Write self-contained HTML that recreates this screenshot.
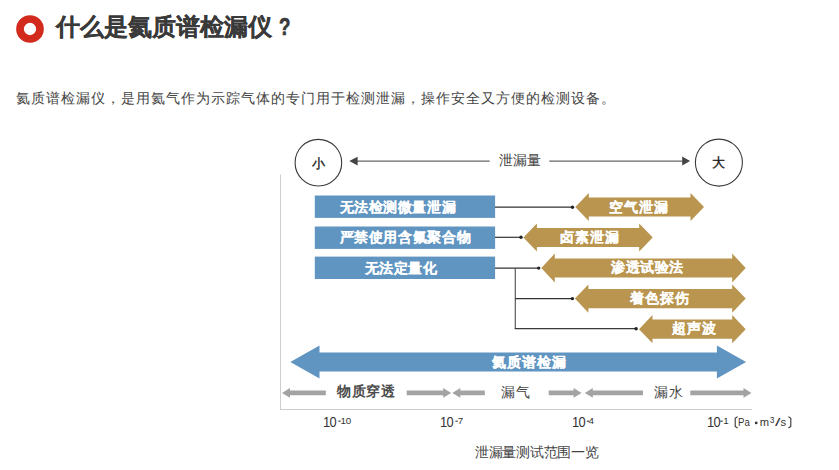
<!DOCTYPE html>
<html><head><meta charset="utf-8"><style>
html,body{margin:0;padding:0;background:#fff;width:839px;height:470px;overflow:hidden;position:relative}
.w{-webkit-text-stroke:0.12px #fff}
.t{position:absolute;white-space:nowrap;line-height:1;font-family:"Liberation Sans",sans-serif}
sup{font-size:0.65em;vertical-align:0.45em;line-height:0}
</style></head><body>
<svg width="839" height="470" viewBox="0 0 839 470" style="position:absolute;left:0;top:0"><circle cx="30" cy="29" r="10" fill="none" stroke="#d22b1d" stroke-width="7.7"/><line x1="280.5" y1="174.5" x2="280.5" y2="409.5" stroke="#cdcdcd" stroke-width="1"/><line x1="280" y1="409.5" x2="752" y2="409.5" stroke="#cdcdcd" stroke-width="1"/><circle cx="318.4" cy="162.7" r="23.3" fill="none" stroke="#3a3a3a" stroke-width="1.1"/><circle cx="718.9" cy="162.6" r="23.5" fill="none" stroke="#3a3a3a" stroke-width="1.1"/><line x1="356" y1="161.1" x2="489.7" y2="161.1" stroke="#666" stroke-width="1.1"/><polygon points="349.3,161.1 357.6,156.8 357.6,165.5" fill="#444"/><line x1="549.3" y1="161.1" x2="683" y2="161.1" stroke="#666" stroke-width="1.1"/><polygon points="690.1,161.1 682.2,156.5 682.2,165.5" fill="#444"/><rect x="314.8" y="195.5" width="180.3" height="22.4" fill="#6195c1"/><rect x="314.8" y="226.5" width="180.3" height="22.4" fill="#6195c1"/><rect x="314.8" y="256.6" width="180.3" height="22.4" fill="#6195c1"/><g stroke="#333" stroke-width="1.2" fill="none"><line x1="495" y1="207.2" x2="572.5" y2="207.2"/><line x1="495" y1="237.3" x2="521" y2="237.3"/><line x1="495" y1="268.1" x2="538.7" y2="268.1"/><line x1="515.3" y1="268.1" x2="515.3" y2="328.7" stroke="#5a5a5a"/><line x1="514.7" y1="328.7" x2="636.1" y2="328.7" stroke="#3a3a3a"/><line x1="515.1" y1="298.6" x2="572.4" y2="298.6"/></g><g fill="#222"><circle cx="572.5" cy="207.2" r="1.7"/><circle cx="521" cy="237.3" r="1.7"/><circle cx="538.7" cy="268.1" r="1.7"/><circle cx="572.4" cy="298.6" r="1.7"/><circle cx="636.1" cy="328.7" r="1.7"/></g><polygon points="575.30,207.00 588.80,193.00 588.80,197.40 690.50,197.40 690.50,193.00 704.00,207.00 690.50,221.00 690.50,216.60 588.80,216.60 588.80,221.00" fill="#b9954f"/><polygon points="523.40,237.50 536.90,223.50 536.90,227.90 639.20,227.90 639.20,223.50 652.70,237.50 639.20,251.50 639.20,247.10 536.90,247.10 536.90,251.50" fill="#b9954f"/><polygon points="541.30,268.00 554.80,253.60 554.80,258.40 732.20,258.40 732.20,253.60 745.70,268.00 732.20,282.40 732.20,277.60 554.80,277.60 554.80,282.40" fill="#b9954f"/><polygon points="574.90,298.60 588.40,284.40 588.40,289.00 732.20,289.00 732.20,284.40 745.70,298.60 732.20,312.80 732.20,308.20 588.40,308.20 588.40,312.80" fill="#b9954f"/><polygon points="639.00,329.20 652.50,315.10 652.50,319.60 732.20,319.60 732.20,315.10 745.70,329.20 732.20,343.30 732.20,338.80 652.50,338.80 652.50,343.30" fill="#b9954f"/><polygon points="290.30,362.00 319.50,345.40 319.50,352.40 716.90,352.40 716.90,345.40 746.10,362.00 716.90,378.60 716.90,371.60 319.50,371.60 319.50,378.60" fill="#6195c1"/><polygon points="282.00,392.90 290.00,388.05 290.00,390.50 325.80,390.50 325.80,395.30 290.00,395.30 290.00,397.75" fill="#a3a3a3"/><polygon points="451.20,392.90 443.20,388.05 443.20,390.50 406.70,390.50 406.70,395.30 443.20,395.30 443.20,397.75" fill="#a3a3a3"/><polygon points="452.30,392.90 460.30,388.05 460.30,390.50 484.80,390.50 484.80,395.30 460.30,395.30 460.30,397.75" fill="#a3a3a3"/><polygon points="581.60,392.90 573.60,388.05 573.60,390.50 548.70,390.50 548.70,395.30 573.60,395.30 573.60,397.75" fill="#a3a3a3"/><polygon points="584.80,392.90 592.80,388.05 592.80,390.50 643.00,390.50 643.00,395.30 592.80,395.30 592.80,397.75" fill="#a3a3a3"/><polygon points="751.50,392.90 743.50,388.05 743.50,390.50 690.30,390.50 690.30,395.30 743.50,395.30 743.50,397.75" fill="#a3a3a3"/><path d="M737.6,416.6 L735.2,418.2 L735.2,426.4 L737.6,428" fill="none" stroke="#333" stroke-width="1.1"/><path d="M788.4,416.6 L790.8,418.2 L790.8,426.4 L788.4,428" fill="none" stroke="#333" stroke-width="1.1"/><circle cx="756.2" cy="422.9" r="1.35" fill="#333"/><rect x="338.3" y="420.6" width="2.4" height="1.1" fill="#333"/><rect x="455.4" y="420.6" width="2.4" height="1.1" fill="#333"/><rect x="586.8" y="420.6" width="2.4" height="1.1" fill="#333"/><rect x="720.3" y="420.6" width="2.4" height="1.1" fill="#333"/></svg>
<div class="t" style="left:56px;top:15px;font-size:24px;color:#3a3a3a;font-weight:bold;-webkit-text-stroke:0.2px #3a3a3a">什么是氦质谱检漏仪</div><div class="t" style="left:278.8px;top:14.8px;font-size:24px;color:#3a3a3a;font-weight:bold;transform:scaleX(0.78);transform-origin:0 0;-webkit-text-stroke:0.7px #3a3a3a">?</div><div class="t" style="left:16px;top:91px;font-size:14px;color:#444;font-weight:normal;letter-spacing:1px">氦质谱检漏仪，是用氦气作为示踪气体的专门用于检测泄漏，操作安全又方便的检测设备。</div><div class="t" style="left:312px;top:156.5px;font-size:13px;color:#1a1a1a;font-weight:normal;-webkit-text-stroke:0.35px #1a1a1a">小</div><div class="t" style="left:712px;top:155.8px;font-size:13px;color:#1a1a1a;font-weight:normal;-webkit-text-stroke:0.35px #1a1a1a">大</div><div class="t" style="left:498.5px;top:152.5px;font-size:14px;color:#444;font-weight:normal;">泄漏量</div><div class="t w" style="left:339.5px;top:199.5px;font-size:14px;color:#fff;font-weight:bold;letter-spacing:0.6px">无法检测微量泄漏</div><div class="t w" style="left:339.5px;top:230px;font-size:14px;color:#fff;font-weight:bold;letter-spacing:0.65px">严禁使用含氟聚合物</div><div class="t w" style="left:364.5px;top:260.5px;font-size:14px;color:#fff;font-weight:bold;letter-spacing:0.5px">无法定量化</div><div class="t w" style="left:609px;top:199.5px;font-size:14px;color:#fff;font-weight:bold;letter-spacing:0.9px">空气泄漏</div><div class="t w" style="left:560px;top:230px;font-size:14px;color:#fff;font-weight:bold;letter-spacing:0.9px">卤素泄漏</div><div class="t w" style="left:611px;top:260px;font-size:14px;color:#fff;font-weight:bold;letter-spacing:0.6px">渗透试验法</div><div class="t w" style="left:630px;top:291px;font-size:14px;color:#fff;font-weight:bold;letter-spacing:0.9px">着色探伤</div><div class="t w" style="left:672px;top:321px;font-size:14px;color:#fff;font-weight:bold;letter-spacing:1.2px">超声波</div><div class="t w" style="left:492px;top:354.5px;font-size:14px;color:#fff;font-weight:bold;letter-spacing:0.9px">氦质谱检漏</div><div class="t" style="left:337px;top:384px;font-size:14px;color:#4d4d4d;font-weight:bold;letter-spacing:0.7px">物质穿透</div><div class="t" style="left:501px;top:384.5px;font-size:14px;color:#444;font-weight:normal;letter-spacing:1.1px">漏气</div><div class="t" style="left:654px;top:384.5px;font-size:14px;color:#444;font-weight:normal;letter-spacing:1.2px">漏水</div><div class="t" style="left:323.2px;top:415px;font-size:14px;color:#333;font-weight:normal;letter-spacing:-0.6px;transform:scaleX(0.92);transform-origin:0 0">10</div><div class="t" style="left:340.6px;top:415.8px;font-size:9.8px;color:#333;font-weight:normal;letter-spacing:-0.3px">10</div><div class="t" style="left:440.2px;top:415px;font-size:14px;color:#333;font-weight:normal;letter-spacing:-0.6px;transform:scaleX(0.92);transform-origin:0 0">10</div><div class="t" style="left:457.8px;top:415.8px;font-size:9.8px;color:#333;font-weight:normal;letter-spacing:-0.3px">7</div><div class="t" style="left:572px;top:415px;font-size:14px;color:#333;font-weight:normal;letter-spacing:-0.6px;transform:scaleX(0.92);transform-origin:0 0">10</div><div class="t" style="left:588.6px;top:415.8px;font-size:9.8px;color:#333;font-weight:normal;letter-spacing:-0.3px">4</div><div class="t" style="left:707.2px;top:415px;font-size:14px;color:#333;font-weight:normal;letter-spacing:-0.6px;transform:scaleX(0.92);transform-origin:0 0">10</div><div class="t" style="left:723.2px;top:415.8px;font-size:9.8px;color:#333;font-weight:normal;letter-spacing:-0.3px">1</div><div class="t" style="left:738.3px;top:416.5px;font-size:11.2px;color:#333;font-weight:normal;transform:scaleX(0.86);transform-origin:0 0">Pa</div><div class="t" style="left:759.8px;top:416.5px;font-size:11.2px;color:#333;font-weight:normal;">m</div><div class="t" style="left:770.1px;top:415.8px;font-size:8.8px;color:#333;font-weight:normal;transform:scaleX(0.9);transform-origin:0 0">3</div><div class="t" style="left:774.6px;top:416.5px;font-size:11.2px;color:#333;font-weight:normal;transform:scaleX(1.75);transform-origin:0 0">/</div><div class="t" style="left:780.5px;top:416.5px;font-size:11.2px;color:#333;font-weight:normal;">s</div><div class="t" style="left:475px;top:444.5px;font-size:14px;color:#444;font-weight:normal;letter-spacing:-0.3px">泄漏量测试范围一览</div>
</body></html>
